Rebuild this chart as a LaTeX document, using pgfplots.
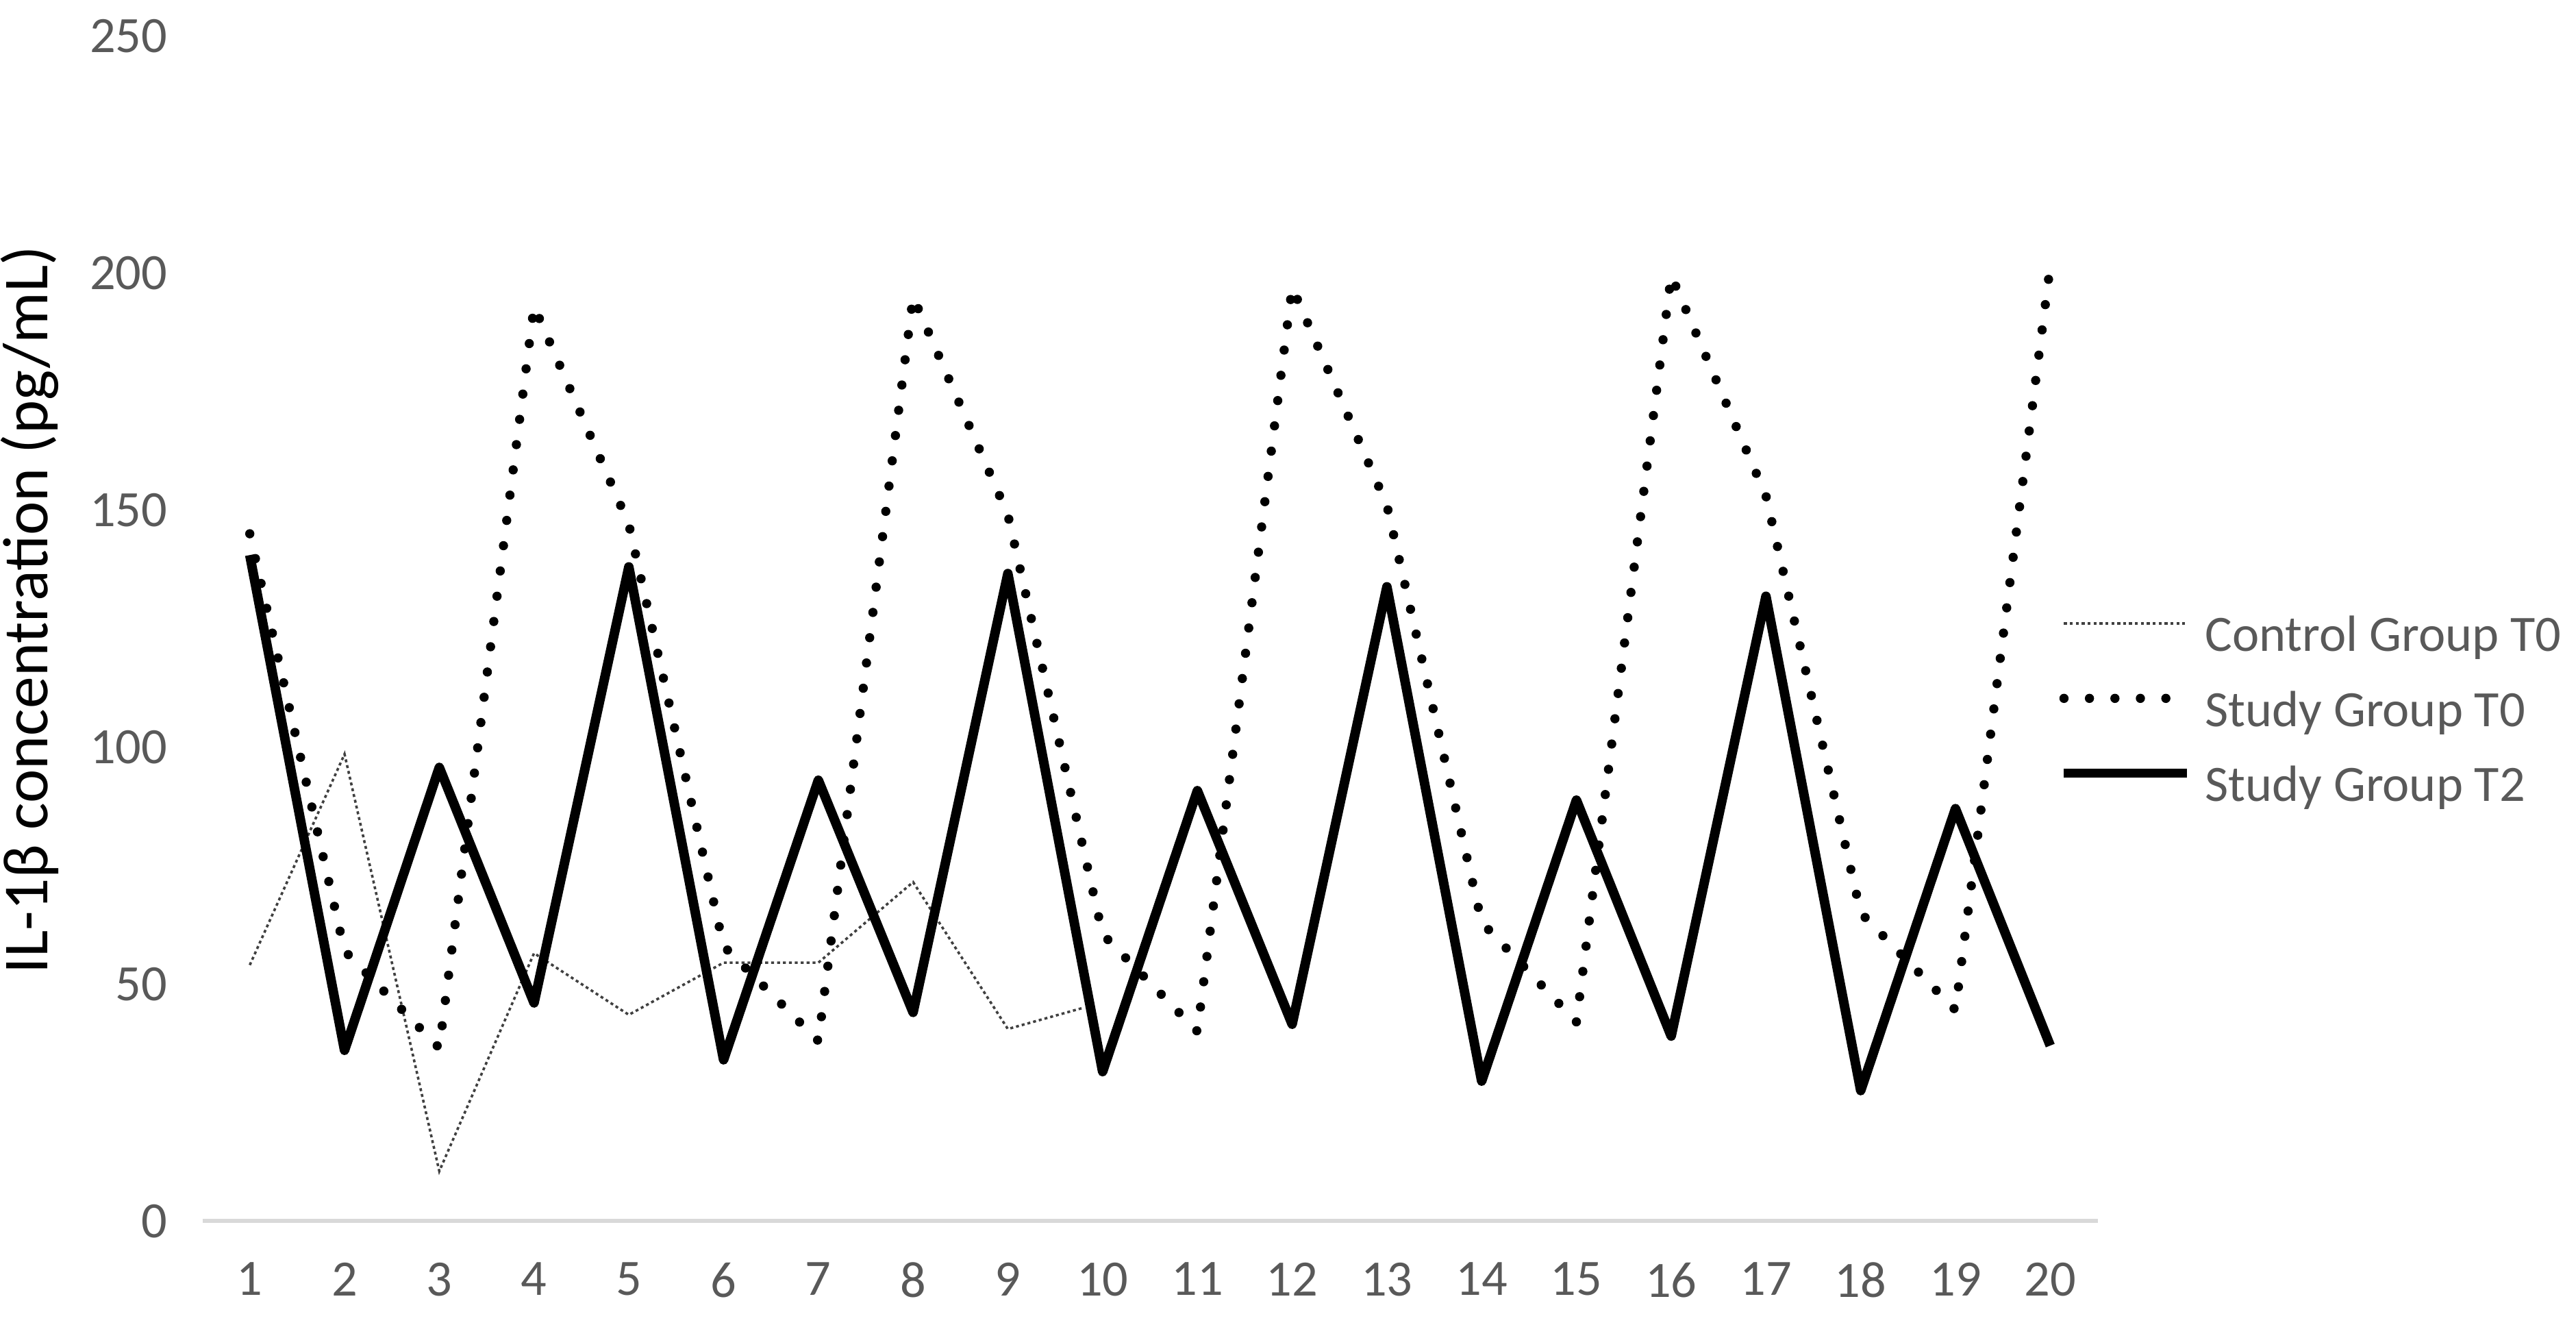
\documentclass[border=0pt]{standalone}
\usepackage{fontspec}
\setmainfont{Carlito}
\usepackage{pgfplots}
\pgfplotsset{compat=1.18}
\definecolor{txtgray}{HTML}{595959}
\definecolor{axgray}{HTML}{D9D9D9}
\begin{document}
\begin{tikzpicture}
\useasboundingbox (-61.6pt,-31.5pt) rectangle (722.4pt,371.5pt);
\begin{axis}[
    at={(0,0)}, anchor=south west,
    scale only axis, width=576.8pt, height=360.5pt,
    xmin=0.5, xmax=20.5, ymin=0, ymax=250,
    axis lines*=left,
    x axis line style={draw=axgray, line width=1.3pt},
    y axis line style={draw=none},
    xtick={1,...,20}, ytick={0,50,...,250},
    major tick length=0pt,
    /pgf/number format/assume math mode=true,
    tick label style={font=\fontsize{15.5}{18}\selectfont, text=txtgray, inner sep=0pt},
    xticklabel style={anchor=north, yshift=-12.5pt},
    yticklabel style={anchor=east, xshift=-10.5pt},
    ylabel={IL-1β concentration (pg/mL)},
    ylabel style={font=\fontsize{19.5}{22}\selectfont, at={(axis description cs:-0.091,0.516)}, anchor=center},
    legend cell align=left,
    legend style={draw=none, fill=none, at={(0.9794,0.4272)}, anchor=west,
        font=\fontsize{15.5}{18}\selectfont, text=txtgray, inner sep=0pt,
        column sep=4pt, row sep=7.75pt,
        nodes={inner sep=0pt, text height=11pt, text depth=4pt}},
    legend image code/.code={\draw[#1] (0pt,5pt) -- (37.5pt,5pt);},
]
% control group, baseline
\addplot[black!75, line width=0.75pt, dash pattern=on 0.9pt off 0.9pt] coordinates {
    (1,54) (2,98.5) (3,10.5) (4,56.5) (5,43.5) (6,54.5) (7,54.5) (8,71.5) (9,40.5) (9.8,45)
};
\addlegendentry{Control Group T0}
% study group, baseline
\addplot[black, line width=2.8pt, line cap=round, dash pattern=on 0pt off 7.75pt] coordinates {
    (1,145) (2,57) (3,36.5) (4,193) (5,147) (6,58) (7,38) (8,195) (9,149) (10,60.5)
    (11,40) (12,197) (13,151) (14,63) (15,42) (16,199.5) (17,153) (18,65) (19,44.5) (20,201.5)
};
\addlegendentry{Study Group T0}
% study group, T2
\addplot[black, line width=2.9pt, line join=round] coordinates {
    (1,140.5) (2,36) (3,95.7) (4,46) (5,138) (6,34) (7,93) (8,44) (9,136.6) (10,31.5)
    (11,90.8) (12,41.5) (13,133.8) (14,29.5) (15,88.8) (16,39) (17,131.8) (18,27.5) (19,87) (20,37)
};
\addlegendentry{Study Group T2}
\end{axis}
\end{tikzpicture}
\end{document}
